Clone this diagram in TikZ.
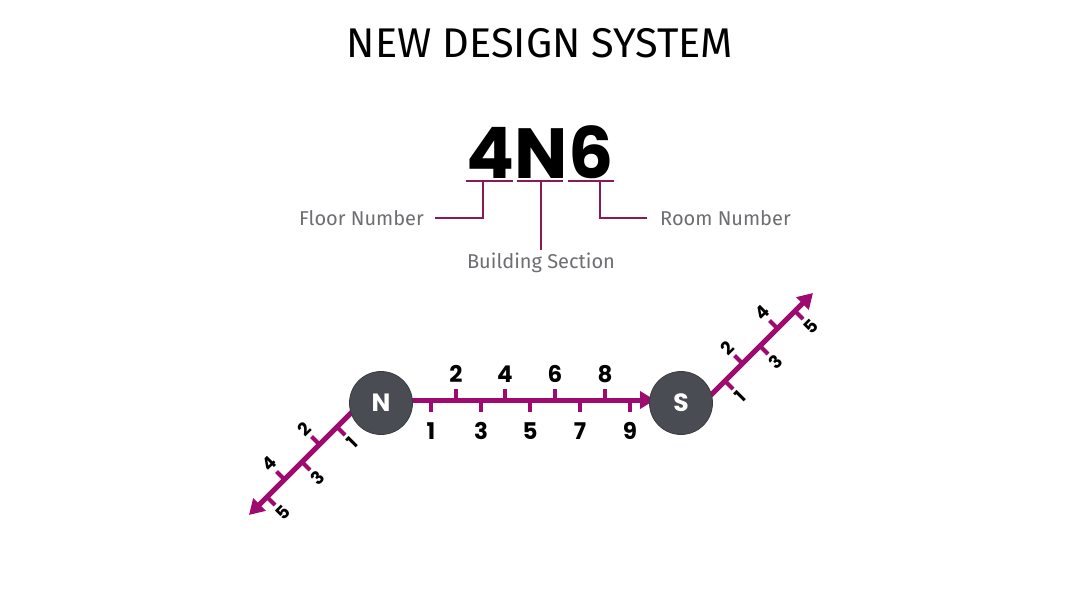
\documentclass[tikz,border=0pt]{standalone}
\usepackage{fontspec}
\usetikzlibrary{arrows.meta}
\newfontfamily\lightf{Fira Sans}
\newfontfamily\geo{Poppins}
\definecolor{axis}{HTML}{9E0A6E}
\definecolor{leader}{HTML}{8A1A55}
\definecolor{hub}{HTML}{4A4C54}
\definecolor{hubedge}{HTML}{3A3C42}
\definecolor{labelgray}{HTML}{6D6E71}
\tikzset{
  axisline/.style={draw=axis,line width=5pt},
  axisarrow/.style={axisline,-{Triangle[length=15pt,width=17pt]}},
  tickmark/.style={draw=axis,line width=4pt},
  leaderline/.style={draw=leader,line width=2pt},
  hubnode/.style={circle,fill=hub,draw=hubedge,line width=0.8pt,minimum size=63pt,inner sep=0pt,text=white,font=\geo\bfseries\fontsize{25}{25}\selectfont},
  numlab/.style={inner sep=0pt,font=\geo\bfseries\fontsize{23}{23}\selectfont},
  diaglab/.style={inner sep=0pt,rotate=45,font=\geo\bfseries\fontsize{18}{18}\selectfont},
  desc/.style={inner sep=0pt,text=labelgray,font=\lightf\fontsize{20}{20}\selectfont},
}
\begin{document}
\begin{tikzpicture}[x=1pt,y=-1pt]
\fill[white] (0,0) rectangle (1080,608);
\useasboundingbox (0,0) rectangle (1080,608);
% title
\node[inner sep=0pt,font=\lightf\fontsize{41.5}{41.5}\selectfont] (title) at (540,43) {NEW DESIGN SYSTEM};
% code
\node[inner sep=0pt,font=\geo\bfseries\fontsize{71}{71}\selectfont] (code) at (540,152) {4N6};
\coordinate (u1a) at (466,181); \coordinate (u1b) at (513,181);
\coordinate (u2a) at (517,181); \coordinate (u2b) at (563,181);
\coordinate (u3a) at (568,181); \coordinate (u3b) at (614,181);
\draw[leaderline] (u1a) -- (u1b);
\draw[leaderline] (u2a) -- (u2b);
\draw[leaderline] (u3a) -- (u3b);
\node[desc,anchor=east] (floor) at (424,218) {Floor Number};
\node[desc,anchor=west] (room) at (660,218) {Room Number};
\node[desc] (bsec) at (541,263) {Building Section};
\coordinate (f0) at (483,181); \coordinate (f1) at (483,218); \coordinate (f2) at (435,218);
\coordinate (b0) at (541,181); \coordinate (b1) at (541,250);
\coordinate (r0) at (600,181); \coordinate (r1) at (600,218); \coordinate (r2) at (647,218);
\draw[leaderline] (f0) -- (f1) -- (f2);
\draw[leaderline] (b0) -- (b1);
\draw[leaderline] (r0) -- (r1) -- (r2);
% hubs positions
\coordinate (Nc) at (381,403);
\coordinate (Sc) at (681,403);
% horizontal axis
\coordinate (h0) at (381,400);
\coordinate (htip) at (655,400);
\foreach \x/\n in {456/2,505/4,555/6,605/8}{
  \draw[tickmark] (\x,389) -- (\x,400);
  \node[numlab] at (\x,374) {\n};
}
\foreach \x/\n in {431/1,481/3,530/5,580/7,630/9}{
  \draw[tickmark] (\x,400) -- (\x,412);
  \node[numlab] at (\x,431) {\n};
}
\draw[axisarrow] (h0) -- (htip);
% left diagonal (x+y=764)
\coordinate (l0) at (376,388);
\coordinate (ltip) at (249,515);
\foreach \x/\n/\s in {337/1/1,319.5/2/-1,302/3/1,284.5/4/-1,267/5/1}{
  \pgfmathsetmacro{\y}{764-\x}
  \draw[tickmark] (\x,\y) -- ++(8*\s,8*\s);
  \node[diaglab] at (\x+15.5*\s,\y+15.5*\s) {\n};
}
\draw[axisarrow] (l0) -- (ltip);
% right diagonal (x+y=1106)
\coordinate (r0d) at (686,420);
\coordinate (rtip) at (813,293);
\foreach \x/\n/\s in {725/1/1,742.5/2/-1,760/3/1,777.5/4/-1,795/5/1}{
  \pgfmathsetmacro{\y}{1106-\x}
  \draw[tickmark] (\x,\y) -- ++(8*\s,8*\s);
  \node[diaglab] at (\x+15.5*\s,\y+15.5*\s) {\n};
}
\draw[axisarrow] (r0d) -- (rtip);
% hubs
\node[hubnode] (N) at (Nc) {N};
\node[hubnode] (S) at (Sc) {S};
\end{tikzpicture}
\end{document}
